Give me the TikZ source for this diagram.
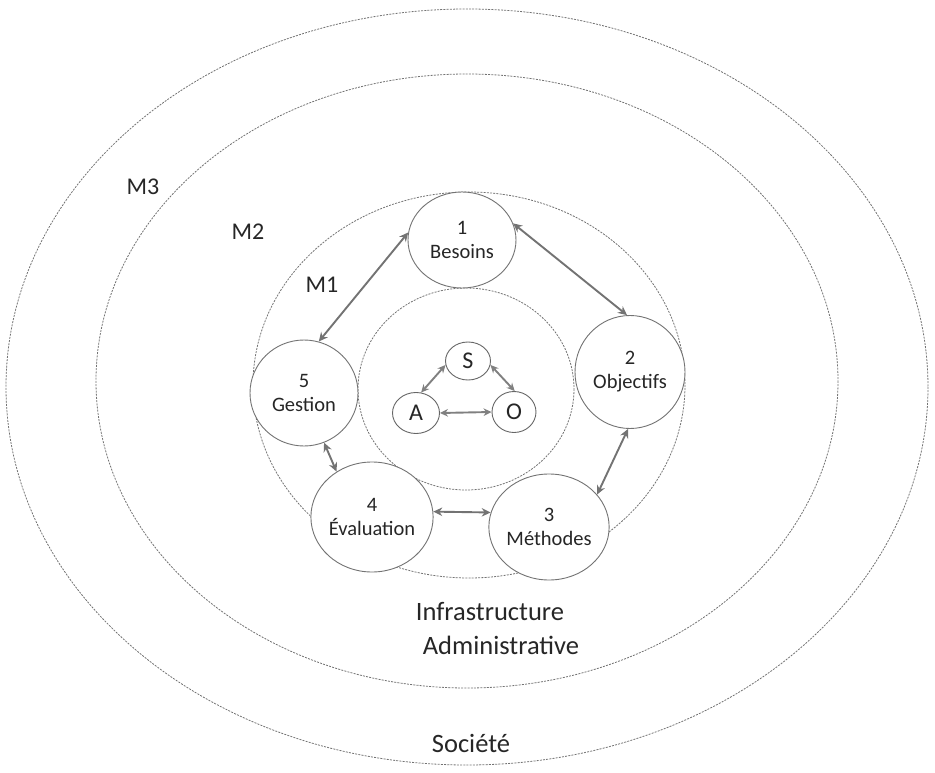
\documentclass[tikz,border=0pt]{standalone}
\usepackage{fontspec}
\setmainfont{Carlito}
\usetikzlibrary{shapes.geometric,arrows.meta}
\begin{document}
\begin{tikzpicture}[x=1pt,y=-1pt,
  ring/.style={draw=black!55, line width=0.8pt, dash pattern=on 2pt off 1.2pt},
  stage/.style={ellipse, draw=black!55, fill=white, line width=0.9pt, inner sep=0pt, align=center,
    font=\fontsize{20.5}{24}\selectfont, text=black!85},
  core/.style={ellipse, draw=black!60, fill=white, line width=0.9pt, inner sep=0pt,
    font=\fontsize{24}{28}\selectfont, text=black!85},
  lvl/.style={font=\fontsize{24}{28}\selectfont, text=black!85},
  big/.style={font=\fontsize{26.5}{30}\selectfont, text=black!85},
  link/.style={draw=black!55, line width=1.9pt, {Stealth[length=9pt,width=8.5pt]}-{Stealth[length=9pt,width=8.5pt]}},
  slink/.style={draw=black!50, line width=1.9pt, {Stealth[length=8pt,width=7.5pt]}-{Stealth[length=8pt,width=7.5pt]}}
]
\useasboundingbox (0,0) rectangle (935,773);

% nested levels
\draw[ring] (467,387) ellipse [x radius=461, y radius=378];
\draw[ring] (467,381) ellipse [x radius=371, y radius=307];
\draw[ring] (469,385) ellipse [x radius=216, y radius=193];
\draw[ring] (466,389) ellipse [x radius=108, y radius=101];

% level labels
\node[lvl] (m3) at (143,187) {M3};
\node[lvl] (m2) at (248,232) {M2};
\node[lvl] (m1) at (322,285) {M1};
\node[big] (infra) at (490,612) {Infrastructure};
\node[big] (admin) at (501,645) {Administrative};
\node[big] (soc) at (471,743) {Société};

% cycle stages
\node[stage, minimum width=108pt, minimum height=96pt] (n1) at (462,240) {1\\Besoins};
\node[stage, minimum width=110pt, minimum height=113pt] (n2) at (630,372) {2\\Objectifs};
\node[stage, minimum width=112pt, minimum height=106pt] (n3) at (549,527) {3\\Méthodes};
\node[stage, minimum width=104pt, minimum height=110pt] (n4) at (372,517) {4\\Évaluation};
\node[stage, minimum width=108pt, minimum height=106pt] (n5) at (304,393) {5\\Gestion};

% core triad
\node[core, minimum width=45pt, minimum height=38pt] (s) at (468,361) {S};
\node[core, minimum width=47pt, minimum height=41pt] (a) at (416,413) {A};
\node[core, minimum width=44pt, minimum height=41pt] (o) at (514,412) {O};

% links between stages
\draw[link] (n1.172) -- (n5.74);
\draw[link] (n1.18) -- (n2.93);
\draw[link] (n2.268) -- (n3.34);
\draw[link] (n4.5) -- (n3.166);
\draw[link] (n5.292) -- (n4.128);

% links in the core
\draw[slink] (s.190) -- (a.76);
\draw[slink] (s.350) -- (o.88);
\draw[slink] (a.0) -- (o.180);
\end{tikzpicture}
\end{document}
